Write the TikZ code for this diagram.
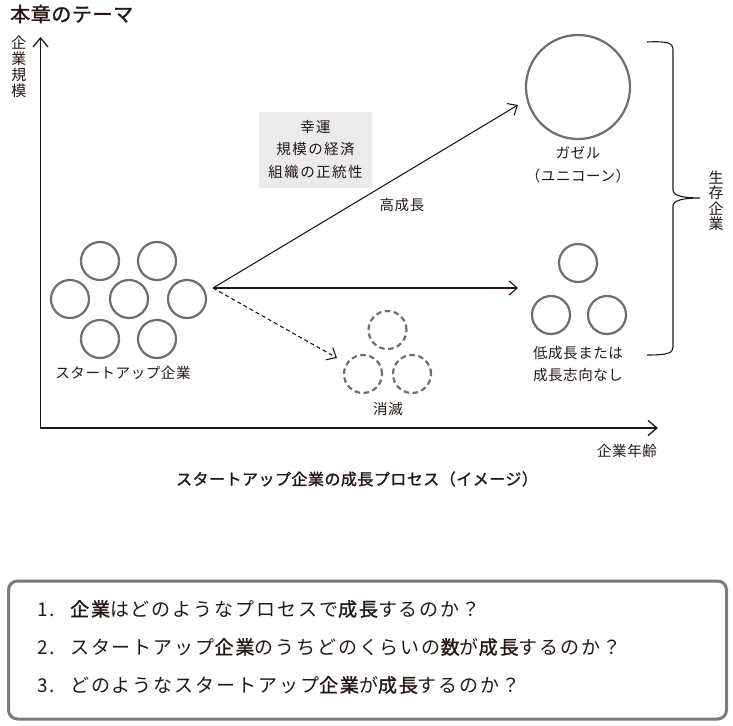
\documentclass[tikz,border=0pt]{standalone}
\usepackage{fontspec}
\setmainfont{Noto Sans CJK JP}
\newfontfamily\jpLab[LetterSpace=4]{Noto Sans CJK JP}
\newfontfamily\jpBox[LetterSpace=10]{Noto Sans CJK JP}
\newfontfamily\jpCap[LetterSpace=3,FakeBold=1.3]{Noto Sans CJK JP}
\newfontfamily\jpTitle[LetterSpace=3,FakeBold=1.6]{Noto Sans CJK JP}
\newfontfamily\jpQ[LetterSpace=10]{Noto Sans CJK JP}
\newfontfamily\jpQb[LetterSpace=10,FakeBold=1.4]{Noto Sans CJK JP}
\usetikzlibrary{arrows.meta}
\definecolor{ink}{HTML}{231815}
\definecolor{ringgray}{HTML}{6E6E6E}
\definecolor{boxgray}{HTML}{EBEBEB}
\definecolor{framegray}{HTML}{7A7A7A}
\begin{document}
\begin{tikzpicture}[x=1pt,y=-1pt,
  ring/.style={circle,draw=ringgray,line width=2.2pt,inner sep=0pt,minimum size=#1},
  ring/.default=38,
  dring/.style={ring,dash pattern=on 5.5pt off 3.5pt},
  lab/.style={text=ink,font=\jpLab\fontsize{14.5}{16}\selectfont,inner sep=0pt},
  flow/.style={draw=ink,line width=1.1pt,-{Straight Barb[length=8pt,width=14pt,line width=1.1pt]}},
  axis/.style={draw=ink,line width=1.3pt,{Straight Barb[length=9pt,width=15pt,line width=1.3pt]}-{Straight Barb[length=9pt,width=15pt,line width=1.3pt]}},
]
\useasboundingbox (0,0) rectangle (733,725);
% title
\node[anchor=west,text=ink,inner sep=0pt,font=\jpTitle\fontsize{20}{22}\selectfont] (title) at (10,14) {本章のテーマ};
% axes
\node[lab,align=center,font=\jpLab\fontsize{15}{16}\selectfont] (ylab) at (19,67) {企\\業\\規\\模};
\coordinate (O) at (40.5,428);
\coordinate (ytip) at (40.5,37);
\coordinate (xtip) at (658,428);
\draw[axis] (ytip) -- (O) -- (xtip);
\node[lab] (xlab) at (627,451) {企業年齢};
% startups
\node[ring] (s1) at (100,261) {};
\node[ring] (s2) at (157,261) {};
\node[ring] (s3) at (70,299) {};
\node[ring] (s4) at (129,299) {};
\node[ring] (s5) at (187,299) {};
\node[ring] (s6) at (100,339) {};
\node[ring] (s7) at (157,339) {};
\node[lab] (slab) at (123,373) {スタートアップ企業};
% arrows
\coordinate (src) at (213,288);
\coordinate (upTip) at (518,105);
\coordinate (midTip) at (518,288);
\coordinate (dnTip) at (337,358);
\draw[flow] (src) -- (upTip);
\draw[flow] (src) -- (midTip);
\draw[flow,dash pattern=on 4pt off 3pt] (src) -- (dnTip);
% factors box
\node[fill=boxgray,minimum width=113,minimum height=76,inner sep=0pt,align=center,text=ink,
  font=\jpBox\fontsize{14.5}{22.5}\selectfont] (fbox) at (315.5,149.5) {幸運\\規模の経済\\組織の正統性};
\node[lab] (hg) at (402,205) {高成長};
% gazelle
\node[ring=104] (gz) at (578,87) {};
\node[lab] (gzl1) at (578,153) {ガゼル};
\node[lab] (gzl2) at (578,176) {（ユニコーン）};
% low growth
\node[ring] (l1) at (578,263) {};
\node[ring] (l2) at (551,315) {};
\node[ring] (l3) at (607,315) {};
\node[lab] (ll1) at (578,353) {低成長または};
\node[lab] (ll2) at (578,375) {成長志向なし};
% vanished
\node[dring] (d1) at (387.5,330) {};
\node[dring] (d2) at (363,374) {};
\node[dring] (d3) at (412,374) {};
\node[lab] (dl) at (388,409) {消滅};
% brace
\coordinate (bt) at (647,42);
\coordinate (bb) at (647,355);
\coordinate (btip) at (700,198);
\draw[ink,line width=1.1pt] (bt) .. controls (668,41) and (673,43) .. (673,50) -- (673,190)
  .. controls (673,196) and (684,198) .. (btip)
  .. controls (684,198) and (673,200) .. (673,206) -- (673,347)
  .. controls (673,353) and (668,355) .. (bb);
\node[lab,align=center,font=\jpLab\fontsize{15}{15.5}\selectfont] (blab) at (716,201) {生\\存\\企\\業};
% caption
\node[text=ink,inner sep=0pt,font=\jpCap\fontsize{16}{18}\selectfont] (cap) at (357,479) {スタートアップ企業の成長プロセス（イメージ）};
% questions
\node[draw=framegray,line width=3pt,rounded corners=9pt,minimum width=718,minimum height=138,inner sep=0pt] (qbox) at (367.5,650) {};
\begin{scope}[every node/.style={anchor=west,inner sep=0pt,text=ink,font=\jpQ\fontsize{19}{20}\selectfont}]
\node (q1) at (37,609) {\makebox[33pt][l]{1.}{\jpQb 企業}はどのようなプロセスで{\jpQb 成長}するのか？};
\node (q2) at (37,647) {\makebox[33pt][l]{2.}スタートアップ{\jpQb 企業}のうちどのくらいの{\jpQb 数}が{\jpQb 成長}するのか？};
\node (q3) at (37,685) {\makebox[33pt][l]{3.}どのようなスタートアップ{\jpQb 企業}が{\jpQb 成長}するのか？};
\end{scope}
\end{tikzpicture}
\end{document}
